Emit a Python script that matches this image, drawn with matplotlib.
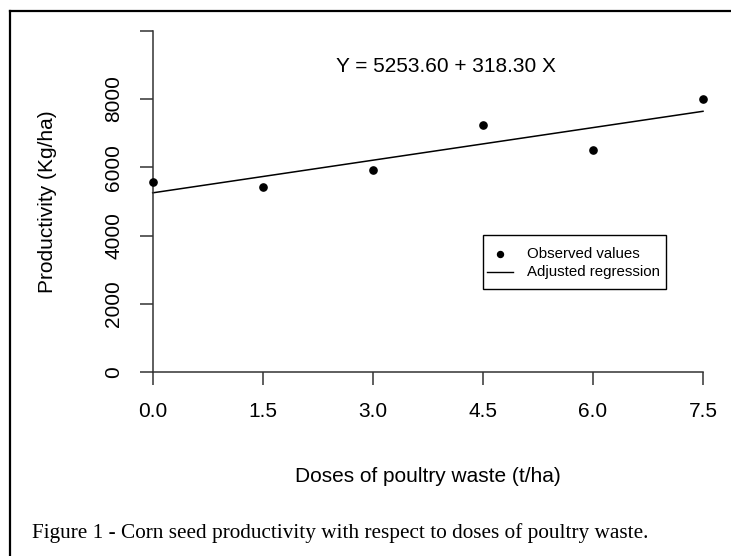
import matplotlib
matplotlib.use('Agg')
import matplotlib.pyplot as plt
from matplotlib.lines import Line2D
from matplotlib.patches import Rectangle
import numpy as np

plt.rcParams['font.family'] = ['Liberation Sans', 'DejaVu Sans']

# 数据
doses = [0.0, 1.5, 3.0, 4.5, 6.0, 7.5]
productivity = [5584, 5433, 5922, 7239, 6516, 8000]
intercept = 5253.60
slope = 318.30
x_ticks = [0.0, 1.5, 3.0, 4.5, 6.0, 7.5]
x_ticklabels = ['0.0', '1.5', '3.0', '4.5', '6.0', '7.5']
y_ticks = [0, 2000, 4000, 6000, 8000, 10000]
y_ticklabels = ['0', '2000', '4000', '6000', '8000', '']
legend_labels = ['Observed values', 'Adjusted regression']

W, H = 731, 556
fig = plt.figure(figsize=(W / 100, H / 100), dpi=100)
fig.patch.set_facecolor('white')

# 坐标区（像素位置换算成比例）
left, right, top, bottom = 152.7, 703, 30.7, 372.3
ax = fig.add_axes([left / W, 1 - bottom / H, (right - left) / W, (bottom - top) / H])
ax.set_xlim(0, 7.5)
ax.set_ylim(0, 10000)

ax.plot(doses, productivity, 'o', color='black', markersize=5.2,
        clip_on=False, zorder=3)
xs = np.array([doses[0], doses[-1]])
ax.plot(xs, intercept + slope * xs, color='black', linewidth=1.1,
        clip_on=False)

for s in ['top', 'right']:
    ax.spines[s].set_visible(False)
for s in ['left', 'bottom']:
    ax.spines[s].set_color('#333333')
    ax.spines[s].set_linewidth(1.1)

fs = 15
ax.set_xticks(x_ticks)
ax.set_xticklabels(x_ticklabels)
ax.set_yticks(y_ticks)
ax.set_yticklabels(y_ticklabels, rotation=90, va='center')
ax.tick_params(axis='both', direction='out', length=9.1, width=1.1,
               color='#333333', labelsize=fs)
ax.tick_params(axis='x', pad=12.5)
ax.tick_params(axis='y', pad=12)

ax.set_xlabel('Doses of poultry waste (t/ha)', fontsize=fs, labelpad=33)
ax.set_ylabel('Productivity (Kg/ha)', fontsize=fs, labelpad=34)

ax.text(4.0, 8950, 'Y = %.2f + %.2f X' % (intercept, slope), fontsize=fs,
        ha='center', va='center')

# 图例，手动画成R风格
def px(x, y):
    return x / W, 1 - y / H

fig.add_artist(Rectangle(px(483, 289), 183 / W, 54 / H, transform=fig.transFigure,
                         facecolor='white', edgecolor='black', linewidth=1.0))
fig.add_artist(Line2D([500 / W], [1 - 254 / H], marker='o', color='black',
                      markersize=4.3, linestyle='none', transform=fig.transFigure))
fig.add_artist(Line2D([486.7 / W, 513.3 / W], [1 - 272 / H, 1 - 272 / H],
                      color='black', linewidth=1.0, transform=fig.transFigure))
for lbl, yy in zip(legend_labels, [254, 272]):
    fig.text(526.7 / W, 1 - yy / H, lbl, fontsize=10.8, ha='left', va='center')

# 外框（只有上边和左边）
fig.add_artist(Line2D([10 / W, 1], [1 - 11 / H, 1 - 11 / H],
                      transform=fig.transFigure, color='black', linewidth=1.6))
fig.add_artist(Line2D([10 / W, 10 / W], [1 - 11 / H, 0],
                      transform=fig.transFigure, color='black', linewidth=1.6))

fig.text(32 / W, 1 - 533 / H,
         'Figure 1 - Corn seed productivity with respect to doses of poultry waste.',
         fontsize=15.3, family=['Liberation Serif', 'DejaVu Serif'],
         ha='left', va='center')

fig.savefig('out.png', dpi=100, facecolor='white')
